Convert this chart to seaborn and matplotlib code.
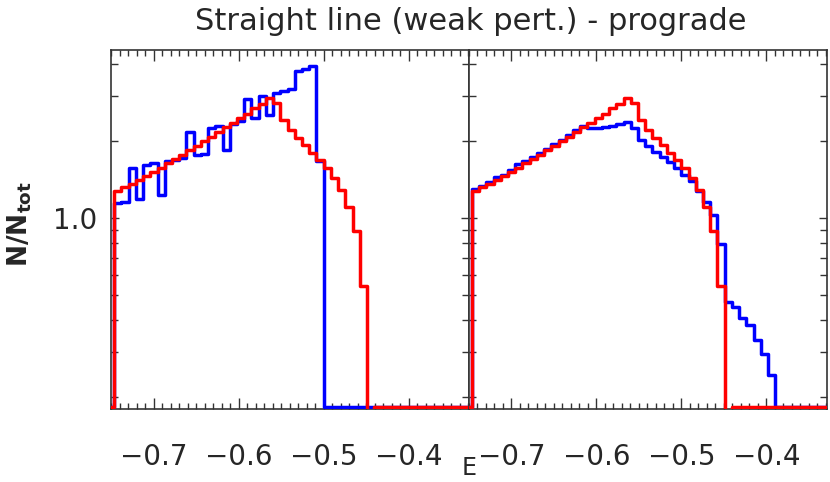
import numpy as np
import pandas as pd
import matplotlib
matplotlib.use("Agg")
import matplotlib.pyplot as plt
import matplotlib.ticker as ticker
import seaborn as sns

# ─── STYLE ────────────────────────────────────────────────────────────────────
sns.set_style("ticks")
plt.rcParams["font.family"] = ["DejaVu Sans"]
BASE_FONT_SIZE = 20
AXIS_COLOR = "#333333"

# ─── DATA ─────────────────────────────────────────────────────────────────────
# histogram binning in E (49 bins)
E_MIN = -0.7465
BIN_WIDTH = 0.0085

# red: same reference distribution in both panels
N_REFERENCE = [
    1.272, 1.315, 1.362, 1.403, 1.458, 1.511, 1.572, 1.638, 1.700, 1.766,
    1.840, 1.915, 1.993, 2.068, 2.160, 2.260, 2.355, 2.455, 2.545, 2.675,
    2.795, 2.935, 2.798, 2.408, 2.195, 2.055, 1.930, 1.790, 1.683, 1.560,
    1.428, 1.290, 1.100, 0.890, 0.543, 0.050, 0.0, 0.0, 0.0, 0.0,
    0.0, 0.0, 0.0, 0.0, 0.0, 0.0, 0.0, 0.0, 0.0,
]
# blue, left panel
N_LEFT = [
    1.144, 1.155, 1.567, 1.190, 1.606, 1.631, 1.227, 1.670, 1.680, 1.706,
    2.156, 1.758, 1.774, 2.236, 2.288, 1.840, 2.330, 2.380, 2.900, 2.450,
    3.000, 2.520, 3.080, 3.130, 3.190, 3.760, 3.830, 3.910, 1.665, 0.0,
    0.0, 0.0, 0.0, 0.0, 0.0, 0.0, 0.0, 0.0, 0.0, 0.0,
    0.0, 0.0, 0.0, 0.0, 0.0, 0.0, 0.0, 0.0, 0.0,
]
# blue, right panel
N_RIGHT = [
    1.295, 1.334, 1.382, 1.438, 1.477, 1.536, 1.617, 1.670, 1.730, 1.795,
    1.866, 1.940, 2.012, 2.104, 2.214, 2.281, 2.245, 2.235, 2.255, 2.281,
    2.320, 2.365, 2.243, 2.020, 1.908, 1.810, 1.725, 1.646, 1.565, 1.472,
    1.390, 1.273, 1.155, 1.028, 0.789, 0.470, 0.449, 0.408, 0.381, 0.335,
    0.295, 0.243, 0.0, 0.0, 0.0, 0.0, 0.0, 0.0, 0.0,
]

Y_MAJOR = [1.0]
Y_MINOR = [0.2, 0.3, 0.4, 0.5, 0.6, 0.7, 0.8, 0.9, 2.0, 3.0, 4.0]
XLIM = (-0.75, -0.329)
YLIM = (0.179, 4.52)
ZERO_FLOOR = 0.182   # empty bins are drawn along the bottom axis

TITLE = "Straight line (weak pert.) - prograde"


# ─── HELPERS ──────────────────────────────────────────────────────────────────

def stair_frame(values, label):
    """Histogram outline as points for a steps-post line (empty bin padded in front)."""
    v = np.asarray(values, dtype=float)
    edges = E_MIN + BIN_WIDTH * np.arange(-1, len(v) + 1)
    heights = np.concatenate([[0.0], v, [v[-1]]])
    heights = np.where(heights > 0, heights, ZERO_FLOOR)
    return pd.DataFrame({"E": edges, "N": heights, "run": label})


def minus_fmt(x, _):
    return f"{x:.1f}".replace("-", "\u2212")


# ─── MAIN PLOT ────────────────────────────────────────────────────────────────

def main():
    fig, axes = plt.subplots(1, 2, figsize=(8.3, 4.82), dpi=100, sharey=True)
    fig.subplots_adjust(left=0.134, right=0.996, bottom=0.151, top=0.896, wspace=0)

    for ax, blue in zip(axes, [N_LEFT, N_RIGHT]):
        df = pd.concat([stair_frame(blue, "blue"), stair_frame(N_REFERENCE, "red")])
        sns.lineplot(
            data=df, x="E", y="N", hue="run",
            palette={"blue": "#0000ff", "red": "#ff0000"},
            drawstyle="steps-post", estimator=None, sort=False,
            linewidth=2.5, legend=False, zorder=3, ax=ax,
        )
        ax.set_yscale("log")
        ax.set_xlim(*XLIM)
        ax.set_ylim(*YLIM)
        ax.set_xlabel("")
        ax.set_ylabel("")

        ax.xaxis.set_major_locator(ticker.MultipleLocator(0.1))
        ax.xaxis.set_minor_locator(ticker.MultipleLocator(0.01))
        ax.xaxis.set_major_formatter(ticker.FuncFormatter(minus_fmt))
        ax.yaxis.set_major_locator(ticker.FixedLocator(Y_MAJOR))
        ax.yaxis.set_minor_locator(ticker.FixedLocator(Y_MINOR))
        ax.yaxis.set_major_formatter(ticker.FormatStrFormatter("%.1f"))
        ax.yaxis.set_minor_formatter(ticker.NullFormatter())

        ax.tick_params(which="both", direction="in", top=True, right=True,
                       color=AXIS_COLOR, width=1)
        ax.tick_params(axis="x", which="major", length=8, pad=24,
                       labelsize=BASE_FONT_SIZE)
        ax.tick_params(axis="x", which="minor", length=4)
        ax.tick_params(axis="y", which="major", length=6, pad=10,
                       labelsize=BASE_FONT_SIZE)
        ax.tick_params(axis="y", which="minor", length=5)
        for spine in ax.spines.values():
            spine.set_color(AXIS_COLOR)
            spine.set_linewidth(1.2)

    axes[1].tick_params(axis="y", which="both", labelleft=False)

    fig.suptitle(TITLE, x=0.567, y=1 - 22 / 482, va="center",
                 fontsize=BASE_FONT_SIZE + 2)
    fig.text(0.565, 0.004, "E", ha="center", va="bottom",
             fontsize=BASE_FONT_SIZE - 3)
    fig.text(0.024, 1 - 224 / 482, r"$\mathbf{N/N_{tot}}$", rotation=90,
             ha="center", va="center", fontsize=BASE_FONT_SIZE - 1)

    fig.savefig("out.png", dpi=100)


if __name__ == "__main__":
    main()
